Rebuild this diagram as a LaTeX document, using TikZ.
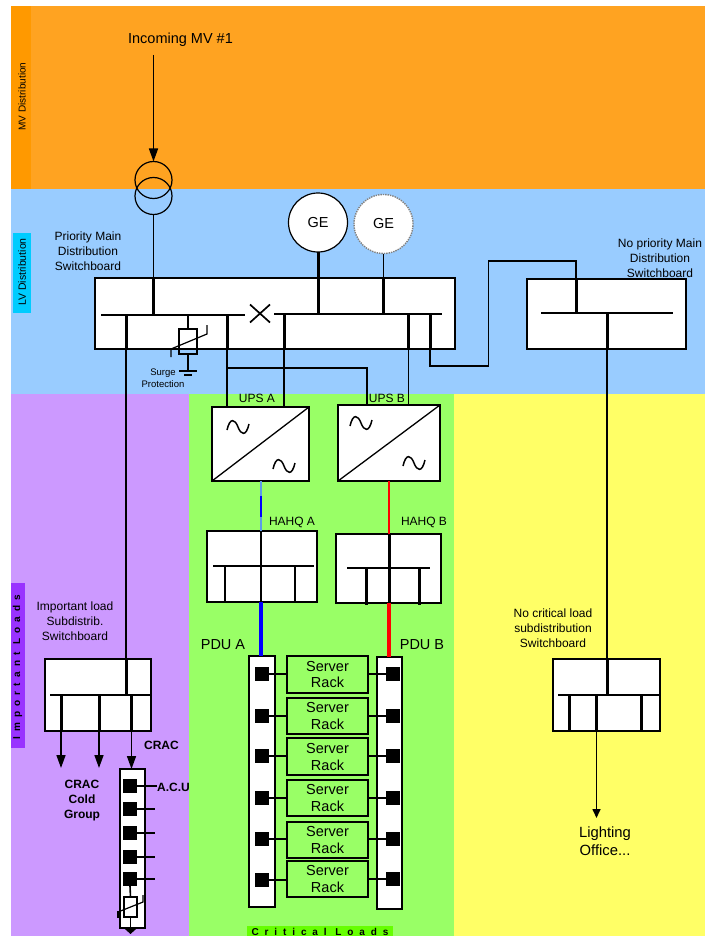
\documentclass[tikz,border=0pt]{standalone}
\usepackage{fontspec}
\setmainfont{Liberation Sans}
\newfontfamily\critfont[LetterSpace=59]{Liberation Sans}
\newfontfamily\impfont[LetterSpace=51]{Liberation Sans}
\usetikzlibrary{arrows.meta,calc}
\definecolor{mvband}{HTML}{FFA321}
\definecolor{mvstrip}{HTML}{FF9900}
\definecolor{lvband}{HTML}{99CCFF}
\definecolor{lvstrip}{HTML}{00CCFF}
\definecolor{impband}{HTML}{CC99FF}
\definecolor{impstrip}{HTML}{9933FF}
\definecolor{critband}{HTML}{99FF66}
\definecolor{critstrip}{HTML}{66FF00}
\definecolor{noband}{HTML}{FFFF66}
\definecolor{bluewire}{HTML}{5C9BEA}
\begin{document}
\begin{tikzpicture}[x=1pt, y=-1pt, >={Triangle[width=9pt,length=13pt]},
    swbox/.style={rectangle, draw=black, fill=white, line width=1.6pt, inner sep=0pt, outer sep=0pt},
    rackbox/.style={rectangle, draw=black, line width=1.6pt, inner sep=0pt, outer sep=0pt, minimum width=81pt, align=center, font=\fontsize{14.5}{17}\selectfont},
    pinsq/.style={rectangle, fill=black, inner sep=0pt, outer sep=0pt, minimum size=14pt},
    wire/.style={line width=1.6pt},
    feeder/.style={line width=3pt},
    caption/.style={align=center, inner sep=0pt, font=\fontsize{12}{14.8}\selectfont},
    acwave/.pic={\draw[line width=1.5pt] (-11,3) .. controls (-8,-10) and (-3,-8) .. (0,0) .. controls (3,8) and (8,10) .. (11,-3);}]
  \useasboundingbox (0,0) rectangle (705,936);

  % bands
  \fill[mvband] (11,6) rectangle (705,189);
  \fill[lvband] (11,189) rectangle (705,394);
  \fill[impband] (11,394) rectangle (189,936);
  \fill[critband] (189,394) rectangle (454,936);
  \fill[noband] (454,394) rectangle (705,936);
  \fill[mvstrip] (11,6) rectangle (31,189);
  \fill[lvstrip] (13,233) rectangle (31,313);
  \fill[impstrip] (11,583) rectangle (24.5,748);
  \fill[critstrip] (247,926) rectangle (393,936);

  \node[rotate=90, inner sep=0pt, font=\fontsize{10}{12}\selectfont] (MvStrip) at (22,96.5) {MV Distribution};
  \node[rotate=90, inner sep=0pt, font=\fontsize{10.5}{12}\selectfont] (LvStrip) at (22,272) {LV Distribution};
  \node[rotate=90, inner sep=0pt, font=\fontsize{10}{11}\selectfont\impfont\bfseries] (ImpStrip) at (17.5,667) {Important Loads};
  \node[inner sep=0pt, font=\fontsize{10}{11}\selectfont\critfont\bfseries] (CritStrip) at (320,931.5) {Critical Loads};

  % switchboards
  \node[swbox, minimum width=360pt, minimum height=71pt] (MainBoard) at (275,313.5) {};
  \node[swbox, minimum width=159pt, minimum height=70pt] (NoPrioBoard) at (606.5,314) {};
  \node[swbox, minimum width=110pt, minimum height=71pt] (HahqA) at (262,566.5) {};
  \node[swbox, minimum width=105pt, minimum height=69pt] (HahqB) at (388.5,568.5) {};
  \node[swbox, minimum width=106pt, minimum height=72pt] (ImpBoard) at (98,695) {};
  \node[swbox, minimum width=107pt, minimum height=72pt] (NoCritBoard) at (606.5,695) {};

  % incoming and transformer
  \coordinate (MvIn) at (153.5,55);
  \node[caption, font=\fontsize{14.5}{17}\selectfont] (MvLabel) at (180.5,40) {Incoming MV \#1};
  \node[circle, draw=black, line width=1.2pt, minimum size=37pt, inner sep=0pt, outer sep=0pt] (Tr1) at (153.5,180) {};
  \node[circle, draw=black, line width=1.2pt, minimum size=37pt, inner sep=0pt, outer sep=0pt] (Tr2) at (153.5,196) {};
  \draw[->, wire] (MvIn) -- (Tr1.north);

  % generators
  \node[circle, draw=black, fill=white, line width=1.2pt, minimum size=59pt, inner sep=0pt, outer sep=0pt, font=\fontsize{14.5}{17}\selectfont] (Ge1) at (318,222.5) {GE};
  \node[circle, draw=gray, densely dotted, fill=white, line width=1.4pt, minimum size=59pt, inner sep=0pt, outer sep=0pt, font=\fontsize{14.5}{17}\selectfont] (Ge2) at (383.5,224) {GE};

  % main board buses
  \coordinate (BusLa) at (101,315);
  \coordinate (BusLb) at (245,315);
  \coordinate (BusRa) at (274,314);
  \coordinate (BusRb) at (442,314);
  \draw[wire] (BusLa) -- (BusLb);
  \draw[wire] (BusRa) -- (BusRb);
  \node[inner sep=0pt] (Tie) at (260,313.5) {};
  \draw[line width=1.7pt] ($(Tie)+(-10,-9)$) -- ($(Tie)+(10,9)$);
  \draw[line width=1.7pt] ($(Tie)+(-10,9)$) -- ($(Tie)+(10,-9)$);

  \coordinate (TapCrac) at (126,315);
  \coordinate (TapTr) at (Tr2.south |- BusLa);
  \coordinate (TapSurge) at (188,315);
  \coordinate (TapUpsA) at (227,315);
  \coordinate (TapByA) at (284,314);
  \coordinate (TapGe1) at (Ge1.south |- BusRa);
  \coordinate (TapGe2) at (Ge2.south |- BusRa);
  \coordinate (TapByB) at (408.5,314);
  \coordinate (TapNoPrio) at (430,314);

  \draw[wire] (Tr2.south) -- (Tr2.south |- MainBoard.north);
  \draw[feeder] (Tr2.south |- MainBoard.north) -- (TapTr);
  \draw[feeder] (Ge1.south) -- (TapGe1);
  \draw[wire] (Ge2.south) -- (Ge2.south |- MainBoard.north);
  \draw[feeder] (Ge2.south |- MainBoard.north) -- (TapGe2);
  \draw[feeder] (TapCrac) -- (TapCrac |- MainBoard.south);
  \draw[feeder] (TapUpsA) -- (TapUpsA |- MainBoard.south);
  \draw[feeder] (TapByA) -- (TapByA |- MainBoard.south);
  \draw[feeder] (TapByB) -- (TapByB |- MainBoard.south);
  \draw[feeder] (TapNoPrio) -- (TapNoPrio |- MainBoard.south);

  % surge protection
  \node[rectangle, draw=black, line width=1.3pt, minimum width=18pt, minimum height=25pt, inner sep=0pt, outer sep=0pt] (Surge) at (188,341.5) {};
  \coordinate (Earth) at (188,371);
  \draw[line width=1.2pt] (TapSurge) -- (Surge.north);
  \draw[line width=1.2pt] (Surge.south) -- (Earth);
  \draw[line width=1.2pt] (171,357) -- (171,349) -- (207,334) -- (207,325);
  \draw[line width=1.3pt] ($(Earth)+(-9,0)$) -- ($(Earth)+(9,0)$);
  \draw[line width=1.6pt] ($(Earth)+(-4,4)$) -- ($(Earth)+(4,4)$);
  \node[caption, font=\fontsize{9.5}{12.5}\selectfont] (SurgeLabel) at (163,378) {Surge\\Protection};

  % UPS
  \node[swbox, minimum width=97pt, minimum height=74pt] (UpsA) at (260.5,444) {};
  \node[swbox, minimum width=102pt, minimum height=76pt] (UpsB) at (389,443) {};
  \draw[line width=1.3pt] (UpsA.south west) -- (UpsA.north east);
  \draw[line width=1.3pt] (UpsB.south west) -- (UpsB.north east);
  \pic at (238,427) {acwave};
  \pic at (284,466) {acwave};
  \pic at (361,423) {acwave};
  \pic at (414,463) {acwave};
  \node[caption] (UpsALabel) at (257,398.5) {UPS A};
  \node[caption] (UpsBLabel) at (387,398.5) {UPS B};

  \draw[wire] (TapUpsA |- MainBoard.south) -- (TapUpsA |- UpsA.north);
  \draw[wire] (TapByA |- MainBoard.south) -- (TapByA |- UpsA.north);
  \draw[wire] (TapByB |- MainBoard.south) -- (TapByB |- UpsB.north);
  \coordinate (ByPass) at (227,368);
  \coordinate (ByPassEnd) at (367,368);
  \draw[wire] (ByPass) -- (ByPassEnd) -- (ByPassEnd |- UpsB.north);

  % link to no priority board
  \coordinate (NoPrioBusA) at (541,313);
  \coordinate (NoPrioBusB) at (673,313);
  \coordinate (TapLinkIn) at (576,313);
  \coordinate (TapNoCrit) at (607,313);
  \coordinate (LinkA) at (430,366);
  \coordinate (LinkB) at (488.5,366);
  \coordinate (LinkC) at (488.5,261);
  \draw[wire] (NoPrioBusA) -- (NoPrioBusB);
  \draw[wire] (TapNoPrio |- MainBoard.south) -- (LinkA) -- (LinkB) -- (LinkC) -- (TapLinkIn |- LinkC) -- (TapLinkIn |- NoPrioBoard.north);
  \draw[feeder] (TapLinkIn |- NoPrioBoard.north) -- (TapLinkIn);
  \draw[feeder] (TapNoCrit) -- (TapNoCrit |- NoPrioBoard.south);
  \draw[wire] (TapNoCrit |- NoPrioBoard.south) -- (TapNoCrit |- NoCritBoard.north);

  % board labels
  \node[caption] (MainLabel) at (88,251) {Priority Main\\Distribution\\Switchboard};
  \node[caption] (NoPrioLabel) at (660,258) {No priority Main\\Distribution\\Switchboard};
  \node[caption] (ImpLabel) at (75,621.5) {Important load\\Subdistrib.\\Switchboard};
  \node[caption] (NoCritLabel) at (553,628.5) {No critical load\\subdistribution\\Switchboard};
  \node[caption] (HahqALabel) at (292,522.5) {HAHQ A};
  \node[caption] (HahqBLabel) at (424,522.5) {HAHQ B};

  % HAHQ A
  \coordinate (HaBusA) at (213,566);
  \coordinate (HaBusB) at (314,566);
  \coordinate (HaMid) at (261,566);
  \coordinate (HaFdA) at (225,566);
  \coordinate (HaFdB) at (295,566);
  \draw[wire, bluewire] (UpsA.south -| HaMid) -- (HaMid |- HahqA.north);
  \draw[wire, blue, shorten <=15pt, shorten >=14pt] (UpsA.south -| HaMid) -- (HaMid |- HahqA.north);
  \draw[wire] (HaBusA) -- (HaBusB);
  \draw[wire] (HaMid |- HahqA.north) -- (HaMid |- HahqA.south);
  \draw[wire] (HaFdA) -- (HaFdA |- HahqA.south);
  \draw[wire] (HaFdB) -- (HaFdB |- HahqA.south);

  % HAHQ B
  \coordinate (HbBusA) at (347,568);
  \coordinate (HbBusB) at (430,568);
  \coordinate (HbMid) at (389,568);
  \coordinate (HbFdA) at (366,568);
  \coordinate (HbFdB) at (419,568);
  \draw[wire, red] (UpsB.south -| HbMid) -- (HbMid |- HahqB.north);
  \draw[wire] (HbBusA) -- (HbBusB);
  \draw[feeder] (HbMid |- HahqB.north) -- (HbMid |- HahqB.south);
  \draw[feeder] (HbFdA) -- ($(HbFdA |- HahqB.south)+(0,2)$);
  \draw[feeder] (HbFdB) -- ($(HbFdB |- HahqB.south)+(0,2)$);

  % PDU and racks
  \node[swbox, minimum width=26pt, minimum height=251pt] (PduA) at (262,781.5) {};
  \node[swbox, minimum width=25pt, minimum height=252pt] (PduB) at (389.5,783) {};
  \node[caption, font=\fontsize{14.5}{17}\selectfont] (PduALabel) at (223,645) {PDU A};
  \node[caption, font=\fontsize{14.5}{17}\selectfont] (PduBLabel) at (422,645) {PDU B};
  \draw[line width=3.4pt, blue] (HaMid |- HahqA.south) -- (HaMid |- PduA.north);
  \draw[line width=3.4pt, red] (HbMid |- HahqB.south) -- (HbMid |- PduB.north);

  \node[rackbox, minimum height=37pt] (Rack1) at (327.5,674.5) {Server\\Rack};
  \node[rackbox, minimum height=36pt] (Rack2) at (327.5,716) {Server\\Rack};
  \node[rackbox, minimum height=37pt] (Rack3) at (327.5,756.5) {Server\\Rack};
  \node[rackbox, minimum height=36pt] (Rack4) at (327.5,798) {Server\\Rack};
  \node[rackbox, minimum height=36pt] (Rack5) at (327.5,840) {Server\\Rack};
  \node[rackbox, minimum height=36pt] (Rack6) at (327.5,879) {Server\\Rack};

  \node[pinsq] (A1) at (262,674) {};
  \node[pinsq] (A2) at (262,716) {};
  \node[pinsq] (A3) at (262,756) {};
  \node[pinsq] (A4) at (262,798) {};
  \node[pinsq] (A5) at (262,839) {};
  \node[pinsq] (A6) at (262,880) {};
  \node[pinsq] (B1) at (393,674) {};
  \node[pinsq] (B2) at (393,716) {};
  \node[pinsq] (B3) at (393,756) {};
  \node[pinsq] (B4) at (393,798) {};
  \node[pinsq] (B5) at (393,839) {};
  \node[pinsq] (B6) at (393,879) {};

  \draw[wire] (A1.east) -- (A1.east -| Rack1.west);
  \draw[wire] (A2.east) -- (A2.east -| Rack2.west);
  \draw[wire] (A3.east) -- (A3.east -| Rack3.west);
  \draw[wire] (A4.east) -- (A4.east -| Rack4.west);
  \draw[wire] (A5.east) -- (A5.east -| Rack5.west);
  \draw[wire] (A6.east) -- (A6.east -| Rack6.west);
  \draw[wire] (B1.west) -- (B1.west -| Rack1.east);
  \draw[wire] (B2.west) -- (B2.west -| Rack2.east);
  \draw[wire] (B3.west) -- (B3.west -| Rack3.east);
  \draw[wire] (B4.west) -- (B4.west -| Rack4.east);
  \draw[wire] (B5.west) -- (B5.west -| Rack5.east);
  \draw[wire] (B6.west) -- (B6.west -| Rack6.east);

  % important loads
  \coordinate (ImpBusA) at (50,695);
  \coordinate (ImpFdA) at (61,695);
  \coordinate (ImpFdB) at (99,695);
  \coordinate (ImpFdC) at (131.5,695);
  \coordinate (ImpIn) at (126,696);
  \coordinate (GroupEndA) at (61,768);
  \coordinate (GroupEndB) at (99,768);
  \draw[wire] (TapCrac |- MainBoard.south) -- (TapCrac |- ImpBoard.north);
  \draw[feeder] (TapCrac |- ImpBoard.north) -- (ImpIn);
  \draw[wire] (ImpBusA) -- (ImpBusA -| ImpBoard.east);
  \draw[feeder] (ImpFdA) -- (ImpFdA |- ImpBoard.south);
  \draw[feeder] (ImpFdB) -- (ImpFdB |- ImpBoard.south);
  \draw[feeder] (ImpFdC) -- (ImpFdC |- ImpBoard.south);

  \node[swbox, minimum width=25pt, minimum height=159pt] (CracBar) at (132.5,848.5) {};
  \draw[->, wire] (ImpFdA |- ImpBoard.south) -- (GroupEndA);
  \draw[->, wire] (ImpFdB |- ImpBoard.south) -- (GroupEndB);
  \draw[->, wire] (ImpFdC |- ImpBoard.south) -- (ImpFdC |- CracBar.north);

  \node[caption, font=\bfseries\fontsize{12}{15.3}\selectfont] (GroupLabel) at (82,800.5) {CRAC\\Cold\\Group};
  \node[caption, font=\bfseries\fontsize{12}{15}\selectfont] (CracLabel) at (161.5,745) {CRAC};
  \node[caption, font=\bfseries\fontsize{12}{15}\selectfont] (AcuLabel) at (173.5,787) {A.C.U};

  \node[pinsq] (C1) at (130,786) {};
  \node[pinsq] (C2) at (130,809) {};
  \node[pinsq] (C3) at (130,833) {};
  \node[pinsq] (C4) at (130,857) {};
  \node[pinsq] (C5) at (130,879) {};
  \draw[wire] (C1.east) -- (AcuLabel.west |- C1.east);
  \draw[wire] (C2.east) -- ($(C2.east)+(18,0)$);
  \draw[line width=2.2pt] (C3.east) -- ($(C3.east)+(18,0)$);
  \draw[wire] (C4.east) -- ($(C4.east)+(18,0)$);
  \draw[wire] (C5.east) -- ($(C5.east)+(18,0)$);

  \node[rectangle, draw=black, fill=white, line width=1.6pt, minimum width=13pt, minimum height=20pt, inner sep=0pt, outer sep=0pt] (CracSurge) at (130.5,907) {};
  \coordinate (CracOut) at (CracSurge.south |- CracBar.south);
  \draw[wire] (C5.south) -- (CracSurge.north);
  \draw[wire] (CracSurge.south) -- (CracOut);
  \draw[-{Triangle[width=13pt,length=6pt]}, wire] (CracOut) -- ($(CracOut)+(0,6)$);
  \draw[line width=1.2pt] (143,895) -- (143,902) -- (118,912);
  \draw[line width=3pt] (118,911) -- (118,918);

  % no critical loads
  \coordinate (NcBusA) at (558,695);
  \coordinate (NcFdA) at (569,695);
  \coordinate (NcFdB) at (596.5,695);
  \coordinate (NcFdC) at (641,695);
  \coordinate (LightEnd) at (596.5,818);
  \draw[wire] (NcBusA) -- (NcBusA -| NoCritBoard.east);
  \draw[feeder] (TapNoCrit |- NoCritBoard.north) -- (TapNoCrit |- NcBusA);
  \draw[feeder] (NcFdA) -- (NcFdA |- NoCritBoard.south);
  \draw[feeder] (NcFdB) -- (NcFdB |- NoCritBoard.south);
  \draw[feeder] (NcFdC) -- (NcFdC |- NoCritBoard.south);
  \draw[-{Triangle[width=8pt,length=9pt]}, wire] (NcFdB |- NoCritBoard.south) -- (LightEnd);
  \node[caption, font=\fontsize{14.8}{18}\selectfont] (LightLabel) at (605,841) {Lighting\\Office...};
\end{tikzpicture}
\end{document}
